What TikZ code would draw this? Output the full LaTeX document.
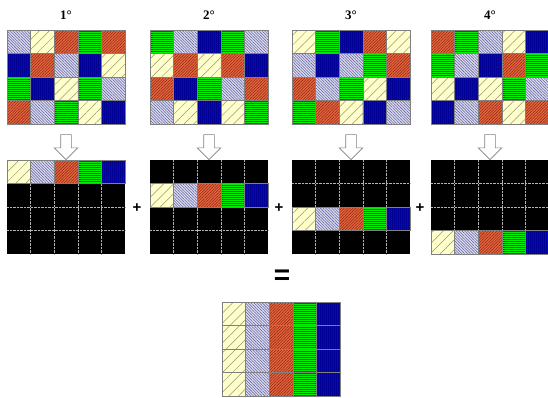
\documentclass[tikz,border=0pt]{standalone}
\usepackage{fontspec}
\setmainfont{Liberation Serif}
\setsansfont{Liberation Sans}
\usetikzlibrary{patterns.meta,shapes.arrows}
\definecolor{ylwfill}{RGB}{255,255,204}
\definecolor{ylwline}{RGB}{150,150,110}
\definecolor{lavfill}{RGB}{220,220,240}
\definecolor{lavline}{RGB}{100,100,160}
\definecolor{redfill}{RGB}{232,100,62}
\definecolor{redline}{RGB}{140,45,20}
\definecolor{grnfill}{RGB}{0,240,0}
\definecolor{grnline}{RGB}{0,110,0}
\definecolor{blufill}{RGB}{0,0,245}
\definecolor{bluline}{RGB}{0,0,150}

\begin{document}
\begin{tikzpicture}[
    x=1pt, y=-1pt,
    pY/.style={preaction={fill=ylwfill}, pattern={Lines[angle=45,distance=7pt,line width=0.5pt]}, pattern color=ylwline},
    pL/.style={preaction={fill=lavfill}, pattern={Lines[angle=-45,distance=2pt,line width=0.55pt]}, pattern color=lavline},
    pR/.style={preaction={fill=redfill}, pattern={Lines[angle=45,distance=2pt,line width=0.55pt]}, pattern color=redline},
    pG/.style={preaction={fill=grnfill}, pattern={Lines[angle=0,distance=2pt,line width=0.45pt]}, pattern color=grnline},
    pB/.style={preaction={fill=blufill}, pattern={Lines[angle=90,distance=2pt,line width=0.4pt]}, pattern color=bluline},
    cellline/.style={draw=gray, line width=0.6pt},
    gridline/.style={draw=gray!60, densely dotted, line width=0.4pt},
    steplabel/.style={font=\fontsize{13}{15}\selectfont\bfseries},
    opsign/.style={font=\sffamily\bfseries\fontsize{15}{17}\selectfont},
    hollowarrow/.style={single arrow, draw=gray, fill=white, line width=0.6pt, rotate=-90,
        inner xsep=0pt, inner ysep=5pt, minimum height=25pt, single arrow head extend=6.5pt}
]
\useasboundingbox (0,0) rectangle (548,397);

% Top grids
\foreach \gx/\cells [count=\k] in {
    7/{pL,pY,pR,pG,pR, pB,pR,pL,pB,pY, pG,pB,pY,pG,pL, pR,pL,pG,pY,pB},
    150/{pG,pL,pB,pG,pL, pY,pR,pY,pR,pB, pR,pB,pG,pL,pR, pL,pY,pB,pY,pG},
    292/{pY,pG,pB,pR,pY, pL,pB,pL,pG,pR, pR,pL,pG,pY,pB, pG,pR,pY,pB,pL},
    431/{pR,pG,pL,pY,pB, pG,pL,pB,pR,pG, pY,pB,pY,pG,pL, pB,pL,pR,pY,pR}} {
  \foreach \s [count=\i from 0] in \cells {
    \pgfmathtruncatemacro{\cc}{mod(\i,5)}
    \pgfmathtruncatemacro{\rr}{div(\i,5)}
    \path[\s, cellline] (\gx+\cc*23.6, 30+\rr*23.5) rectangle ++(23.6,23.5);
  }
  \node[steplabel] (lab\k) at (\gx+59,15) {\k°};
  \node[hollowarrow] (arr\k) at (\gx+59,144.5) {};
}

% Bottom grids
\foreach \gx/\gr in {7/0,150/1,292/2,431/3} {
  \fill[black] (\gx,160) rectangle ++(118,94);
  \foreach \j in {1,...,4} \draw[gridline] (\gx+\j*23.6,160) -- ++(0,94);
  \foreach \j in {1,2,3} \draw[gridline] (\gx,160+\j*23.5) -- ++(118,0);
  \foreach \s [count=\i from 0] in {pY,pL,pR,pG,pB}
    \path[\s, cellline] (\gx+\i*23.6,160+\gr*23.5) rectangle ++(23.6,23.5);
}

% Signs
\node[opsign] (plus1) at (137,208) {+};
\node[opsign] (plus2) at (279,208) {+};
\node[opsign] (plus3) at (420,208) {+};
\node[opsign, font=\sffamily\bfseries\fontsize{28}{30}\selectfont] (equal) at (282,277) {=};

% Result
\foreach \rr in {0,...,3}
  \foreach \s [count=\i from 0] in {pY,pL,pR,pG,pB}
    \path[\s, cellline] (222+\i*23.6,302+\rr*23.5) rectangle ++(23.6,23.5);

\end{tikzpicture}
\end{document}
